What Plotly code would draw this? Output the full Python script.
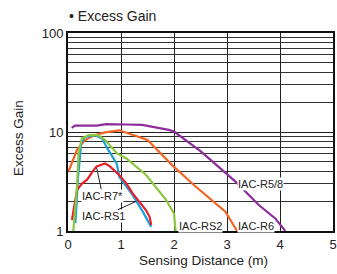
import plotly.graph_objects as go

# ---- data ----
r58_x = [0.07, 0.13, 0.54, 0.72, 1.1, 1.4, 1.9, 2.0, 2.5, 3.16, 3.6, 3.91, 4.1]
r58_y = [11.0, 11.6, 11.6, 12.0, 11.9, 11.8, 10.5, 10.1, 6.4, 3.15, 1.83, 1.34, 1.0]

r6_x = [0.01, 0.07, 0.17, 0.32, 0.51, 0.70, 0.97, 1.5, 1.97, 2.38, 2.97, 3.19]
r6_y = [4.0, 4.8, 6.6, 8.3, 9.3, 9.9, 10.4, 8.3, 4.6, 2.9, 1.57, 1.0]

rs2_x = [0.10, 0.17, 0.20, 0.26, 0.39, 0.57, 0.70, 0.92, 1.1, 1.47, 1.85, 2.0, 2.03]
rs2_y = [1.0, 2.8, 6.1, 8.6, 9.3, 9.3, 8.3, 6.1, 5.4, 3.7, 2.06, 1.5, 1.0]

rs1_x = [0.14, 0.19, 0.25, 0.32, 0.51, 0.64, 0.76, 0.92, 0.97, 1.22, 1.41, 1.57]
rs1_y = [1.2, 3.5, 7.7, 8.9, 9.3, 8.6, 6.6, 4.8, 3.5, 2.3, 1.57, 1.1]

r7_x = [0.075, 0.17, 0.26, 0.36, 0.48, 0.54, 0.70, 0.79, 0.94, 1.1, 1.22, 1.35, 1.47, 1.54, 1.57]
r7_y = [1.29, 2.6, 3.0, 3.3, 4.1, 4.5, 4.8, 4.5, 3.8, 3.03, 2.4, 1.98, 1.63, 1.39, 1.15]

x_ticks = [0, 1, 2, 3, 4, 5]
y_ticks = [1, 10, 100]

series = [
    ("IAC-R5/8", r58_x, r58_y, "#8E2C9A"),
    ("IAC-R6", r6_x, r6_y, "#F26522"),
    ("IAC-RS1", rs1_x, rs1_y, "#1E9FDB"),
    ("IAC-R7*", r7_x, r7_y, "#E8202A"),
    ("IAC-RS2", rs2_x, rs2_y, "#8DC63F"),
]

fig = go.Figure()
for name, xs, ys, col in series:
    fig.add_trace(go.Scatter(x=xs, y=ys, mode="lines", name=name,
                             line=dict(color=col, width=2.2), showlegend=False))

font = "Liberation Sans, Arial, sans-serif"
W, H = 337, 274
L, R, T, B = 68, 4, 33, 43
pw, ph = W - L - R, H - T - B

def px(xp):
    return (xp - L) / pw

def py(yp):
    return (H - B - yp) / ph

fig.update_layout(
    width=W, height=H,
    margin=dict(l=L, r=R, t=T, b=B, autoexpand=False),
    paper_bgcolor="white", plot_bgcolor="white",
    font=dict(family=font, size=13, color="#222"),
    xaxis=dict(range=[0, 5], tickvals=x_ticks, showgrid=True, gridcolor="#222",
               gridwidth=1, showline=True, linecolor="#111", linewidth=2, mirror=True,
               zeroline=False, ticks="", ticklen=0, automargin=False,
               ticklabeloverflow="allow", tickfont=dict(size=13)),
    yaxis=dict(type="log", range=[0, 2], tickvals=y_ticks, showgrid=True,
               gridcolor="#222", gridwidth=1, showline=True, linecolor="#111",
               linewidth=2, mirror=True, zeroline=False, ticks="", automargin=False,
               ticklabeloverflow="allow",
               minor=dict(dtick="D1", showgrid=True, gridcolor="#333", gridwidth=1),
               tickfont=dict(size=13)),
)

# titles
fig.add_annotation(text="• Excess Gain", xref="paper", yref="paper", x=px(67), y=py(16),
                   xanchor="left", yanchor="middle", showarrow=False,
                   font=dict(size=14, color="#222"))
fig.add_annotation(text="Excess Gain", xref="paper", yref="paper", x=px(18), y=py(138),
                   xanchor="center", yanchor="middle", textangle=-90, showarrow=False,
                   font=dict(size=13.5, color="#222"))
fig.add_annotation(text="Sensing Distance (m)", xref="paper", yref="paper", x=px(203),
                   y=py(260), xanchor="center", yanchor="middle", showarrow=False,
                   font=dict(size=13.5, color="#222"))

lab = dict(size=11, color="#222")
fig.add_annotation(text="IAC-R5/8", x=3.63, y=0.477, xref="x", yref="y", showarrow=False,
                   font=lab, bgcolor="white", borderpad=0)
fig.add_annotation(text="IAC-RS2", x=2.5, y=0.055, xref="x", yref="y", showarrow=False,
                   font=lab, bgcolor="white", borderpad=0)
fig.add_annotation(text="IAC-R6", x=3.55, y=0.055, xref="x", yref="y", showarrow=False,
                   font=lab, bgcolor="white", borderpad=0)
fig.add_annotation(text="IAC-R7*", x=0.54, y=0.64, xref="x", yref="y", showarrow=True,
                   arrowhead=0, arrowwidth=1, arrowcolor="#222", ax=6, ay=28,
                   font=lab, bgcolor="white", borderpad=0)
fig.add_annotation(text="IAC-RS1", x=1.29, y=0.30, xref="x", yref="y", showarrow=True,
                   arrowhead=0, arrowwidth=1, arrowcolor="#222", ax=-33, ay=15,
                   font=lab, bgcolor="white", borderpad=0)

fig.write_html(
    "out.html",
    config={"displayModeBar": False},
    post_script="document.body.style.margin='0';document.body.style.overflow='hidden';",
)
